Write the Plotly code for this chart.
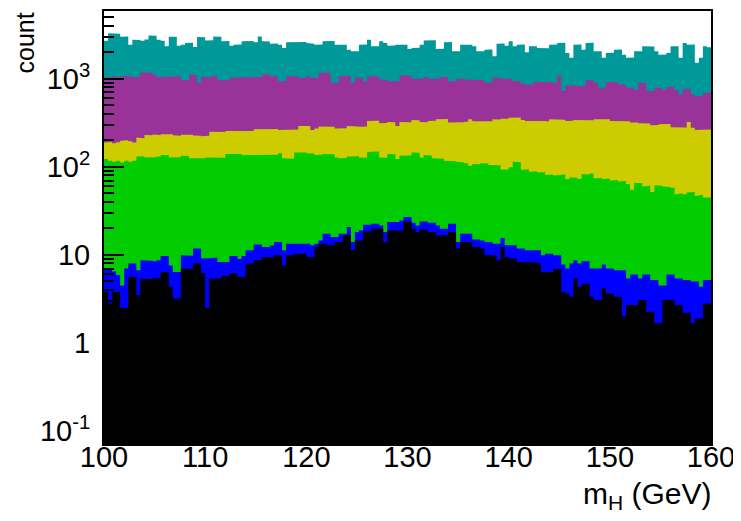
import numpy as np
import plotly.graph_objects as go

# Histogram binning: m_H from 100 to 160 GeV, 150 bins
x_min, x_max, n_bins = 100.0, 160.0, 150

# Cumulative stack heights (count) per bin, top layer first
stack_teal = [
    2700, 3300, 3300, 3250, 3000, 3020, 2440, 2780, 2760, 2700, 2800, 3100, 3080, 2780, 2700,
    2340, 3000, 3010, 2380, 2440, 2550, 2560, 2300, 2980, 2960, 2720, 2740, 3030, 3010, 2670,
    2680, 2380, 2440, 2450, 2670, 2660, 2680, 2600, 3030, 2670, 2650, 2500, 2510, 2440, 2240,
    2600, 2610, 2590, 2600, 2620, 2550, 2500, 2440, 2450, 2670, 2660, 2680, 2440, 2450, 2430,
    2140, 2050, 2060, 2440, 2450, 2780, 2340, 2350, 2670, 2550, 2380, 2390, 2440, 2450, 2430,
    2180, 2240, 2250, 2440, 2730, 2720, 2740, 2180, 2190, 2600, 2610, 2050, 2060, 2440, 2450,
    2430, 2340, 2050, 2060, 2140, 2150, 1800, 2500, 2510, 2380,
    2670, 2340, 2440, 2450, 2000, 2340, 2350, 2240, 2250, 2230, 2440, 2450, 2550, 2560, 1970,
    1730, 2440, 2450, 2140, 2550, 2560, 2050, 2060, 1730, 1970, 1980, 2140, 2150, 1880, 1730,
    1740, 2050, 2060, 2340, 2350, 2330, 2050, 1880, 1890, 1970, 2340, 2350, 1730, 2550, 2440,
    2450, 1520, 1730, 2340, 2280]

stack_purple = [
    1030, 1050, 1070, 1040, 1070, 1050, 1070, 1040, 1060, 1190, 1190, 1170, 1120, 1050, 1050,
    1070, 1070, 1060, 1070, 970, 970, 1120, 1100, 900, 1050, 1050, 1050, 1090, 970, 970,
    970, 1030, 1030, 1030, 1050, 1050, 1050, 1050, 1050, 1120, 1120, 1070, 1070, 940, 940,
    1070, 1070, 1070, 1030, 1030, 1070, 1030, 1030, 1170, 1170, 1170, 900, 900, 1070, 1070,
    1070, 900, 1030, 1030, 940, 1070, 1070, 1070, 980, 980, 940, 940, 940, 1090, 1090,
    1090, 1000, 1000, 1000, 1050, 1000, 1000, 1000, 1050, 1050, 940, 940, 1000, 1000, 980,
    980, 970, 970, 970, 900, 900, 1030, 1030, 1000, 1000,
    1000, 940, 940, 886, 863, 863, 920, 920, 920, 920, 920, 900, 1090, 726, 840,
    840, 840, 826, 826, 965, 965, 900, 790, 790, 920, 920, 920, 863, 863, 790,
    790, 745, 900, 900, 726, 726, 790, 790, 745, 810, 810, 745, 665, 770, 770,
    665, 637, 637, 695, 695]

stack_yellow = [
    189, 192, 186, 190, 198, 200, 196, 189, 215, 212, 230, 228, 233, 230, 235,
    237, 234, 229, 226, 231, 229, 232, 227, 225, 222, 226, 250, 248, 252, 249,
    256, 254, 258, 255, 257, 253, 256, 268, 266, 270, 268, 265, 269, 263, 261,
    264, 262, 265, 292, 290, 292, 263, 272, 287, 285, 288, 286, 272, 270, 274,
    292, 290, 287, 285, 288, 332, 330, 334, 312, 314, 324, 322, 292, 324, 326,
    322, 341, 339, 324, 322, 332, 334, 347, 345, 349, 318, 320, 324, 322, 326,
    347, 329, 331, 332, 334, 330, 347, 345, 353, 351,
    362, 360, 364, 341, 332, 334, 338, 336, 332, 330, 347, 345, 341, 343, 332,
    334, 341, 339, 343, 341, 339, 347, 345, 349, 347, 332, 330, 334, 332, 330,
    318, 320, 312, 314, 310, 297, 299, 305, 303, 307, 281, 279, 277, 280, 324,
    279, 263, 265, 268, 266]

stack_green = [
    123, 117, 114, 117, 112, 117, 114, 117, 131, 131, 128, 127, 129, 131, 136,
    136, 128, 127, 129, 134, 133, 125, 126, 124, 125, 128, 127, 129, 128, 127,
    140, 139, 141, 140, 136, 137, 135, 136, 137, 136, 135, 136, 137, 143, 125,
    123, 124, 146, 145, 146, 143, 142, 136, 137, 140, 141, 139, 128, 125, 126,
    131, 130, 132, 128, 127, 148, 147, 149, 128, 127, 140, 139, 123, 134, 133,
    135, 146, 145, 128, 136, 135, 125, 126, 124, 117, 118, 116, 114, 113, 110,
    103, 108, 107, 110, 109, 105, 106, 104, 93, 94,
    99, 114, 113, 93, 94, 88, 89, 87, 87, 81, 82, 80, 81, 82, 73,
    76, 75, 73, 83, 82, 84, 74, 75, 73, 74, 70, 71, 68, 69, 64,
    55, 66, 65, 60, 61, 52, 62, 61, 60, 59, 58, 49, 50, 49, 51,
    52, 47, 48, 45, 45]

stack_blue = [
    7.0, 7.0, 6.5, 5.9, 4.5, 7.0, 8.0, 8.0, 6.7, 8.7, 8.7, 8.6, 8.5, 8.7, 9.7,
    9.7, 7.6, 6.4, 6.4, 9.9, 9.9, 9.8, 11.8, 11.8, 9.1, 9.2, 9.2, 9.3, 8.3, 8.3,
    8.3, 9.7, 9.7, 9.0, 9.7, 11.3, 11.3, 13.1, 13.1, 12.3, 12.3, 12.8, 14.0, 14.0, 11.3,
    13.4, 13.4, 13.5, 13.3, 13.4, 13.4, 12.9, 13.4, 14.6, 17.4, 17.4, 16.0, 16.0, 17.4, 17.4,
    20.7, 14.0, 18.2, 19.0, 22.0, 22.0, 22.6, 22.6, 21.6, 18.2, 23.6, 23.6, 23.6, 24.6, 26.9,
    26.9, 23.2, 21.6, 24.0, 24.0, 23.2, 23.2, 21.6, 19.8, 19.8, 22.6, 22.6, 14.0, 17.4, 17.4,
    17.4, 15.0, 15.0, 14.6, 14.0, 14.0, 13.4, 13.4, 15.6, 12.9,
    12.9, 12.9, 11.8, 11.8, 11.3, 11.3, 11.3, 11.3, 9.9, 10.3, 10.3, 9.9, 9.9, 7.8, 7.0,
    8.0, 8.7, 8.0, 8.5, 8.5, 7.0, 7.0, 7.0, 7.8, 7.0, 7.0, 6.7, 6.7, 6.7, 5.4,
    6.0, 6.0, 5.4, 6.0, 6.0, 5.2, 5.2, 4.5, 4.5, 6.0, 6.0, 5.4, 5.4, 5.2, 5.2,
    5.0, 5.0, 4.35, 5.2, 5.2]

stack_black = [
    3.8, 2.8, 3.8, 3.8, 2.5, 2.5, 5.6, 5.6, 3.5, 5.4, 5.4, 5.3, 5.5, 5.4, 6.4,
    6.4, 4.35, 3.2, 3.2, 7.0, 7.0, 6.9, 8.0, 8.0, 6.2, 2.5, 5.4, 5.4, 5.4, 5.8,
    5.8, 6.2, 6.2, 5.6, 5.6, 8.0, 8.0, 8.7, 8.7, 9.5, 9.5, 9.4, 9.9, 9.9, 7.6,
    9.9, 9.9, 10.3, 10.3, 10.3, 9.5, 9.5, 12.3, 13.4, 13.4, 12.9, 12.9, 14.0, 14.0, 16.7,
    16.7, 11.3, 14.6, 14.6, 18.5, 18.5, 19.8, 19.8, 19.8, 14.0, 19.0, 19.0, 19.0, 19.0, 24.0,
    24.0, 19.8, 18.2, 19.5, 19.5, 18.2, 18.2, 16.7, 16.7, 16.7, 18.2, 18.2, 11.8, 14.0, 14.0,
    14.0, 12.3, 12.3, 11.8, 9.9, 9.9, 9.9, 8.7, 12.3, 9.5,
    9.1, 9.1, 8.3, 8.2, 8.2, 8.2, 8.2, 8.0, 6.4, 6.4, 6.4, 6.9, 6.9, 3.8, 3.65,
    3.35, 5.4, 4.35, 4.7, 4.7, 3.35, 3.07, 3.07, 4.2, 3.65, 3.65, 3.35, 3.35, 2.0, 2.7,
    2.7, 2.7, 3.07, 3.07, 2.27, 2.27, 1.68, 1.68, 3.07, 3.07, 3.07, 2.7, 2.7, 2.2, 2.2,
    1.68, 1.9, 1.9, 2.8, 2.8]

layer_colors = ["#009999", "#993399", "#cccc00", "#00cc00", "#0000ff", "#000000"]
layers = [stack_teal, stack_purple, stack_yellow, stack_green, stack_blue, stack_black]

y_tickvals = [0.1, 1, 10, 100, 1000]
y_ticktext = ["10<sup>-1</sup>", "1", "10", "10<sup>2</sup>", "10<sup>3</sup>"]
x_tickvals = [100, 110, 120, 130, 140, 150, 160]

for arr in layers:
    assert len(arr) == n_bins

edges = np.linspace(x_min, x_max, n_bins + 1)
floor_val = 1e-3

fig = go.Figure()
for vals, col in zip(layers, layer_colors):
    xs, ys = [], []
    for i, v in enumerate(vals):
        xs += [edges[i], edges[i + 1]]
        ys += [v, v]
    xs += [edges[-1], edges[0]]
    ys += [floor_val, floor_val]
    fig.add_trace(go.Scatter(x=xs, y=ys, mode="lines", fill="toself",
                             fillcolor=col, line=dict(width=0, color=col),
                             hoverinfo="skip", showlegend=False))

minor_vals = [m * 10.0 ** k for k in range(-1, 4) for m in range(2, 10)]

FONT = "Liberation Sans, Arial, sans-serif"
# page body adds an 8 px offset; the figure is sized to fit inside the window
fig.update_layout(
    width=733, height=513,
    margin=dict(l=96, r=30, t=1, b=77),
    paper_bgcolor="white", plot_bgcolor="white",
    font=dict(family=FONT, size=28, color="black"),
    showlegend=False,
)
fig.update_xaxes(range=[x_min, x_max], tickvals=x_tickvals, ticks="",
                 showgrid=False, zeroline=False, showline=True, mirror=True,
                 linecolor="black", linewidth=2, ticklabelstandoff=-14,
                 tickfont=dict(family=FONT, size=29))
fig.update_yaxes(type="log", range=[-1.147, 3.77], tickvals=y_tickvals, ticktext=y_ticktext,
                 ticks="inside", ticklen=20, tickwidth=2, tickcolor="black",
                 minor=dict(tickvals=minor_vals, ticks="inside", ticklen=10, tickwidth=2,
                            tickcolor="black", showgrid=False),
                 showgrid=False, zeroline=False, showline=True, mirror=True,
                 linecolor="black", linewidth=2, ticklabelstandoff=6,
                 tickfont=dict(family=FONT, size=29))

fig.add_annotation(text="count", textangle=-90, xref="paper", yref="paper",
                   x=(24 - 104) / 607, y=1.0, xanchor="center", yanchor="top",
                   showarrow=False, font=dict(family=FONT, size=25))
fig.add_annotation(text="m<sub>H</sub> (GeV)", xref="paper", yref="paper",
                   x=1.0 + 3 / 607, y=-(496 - 444) / 435, xanchor="right", yanchor="middle",
                   showarrow=False, font=dict(family=FONT, size=30))

fig.write_html("out.html")
